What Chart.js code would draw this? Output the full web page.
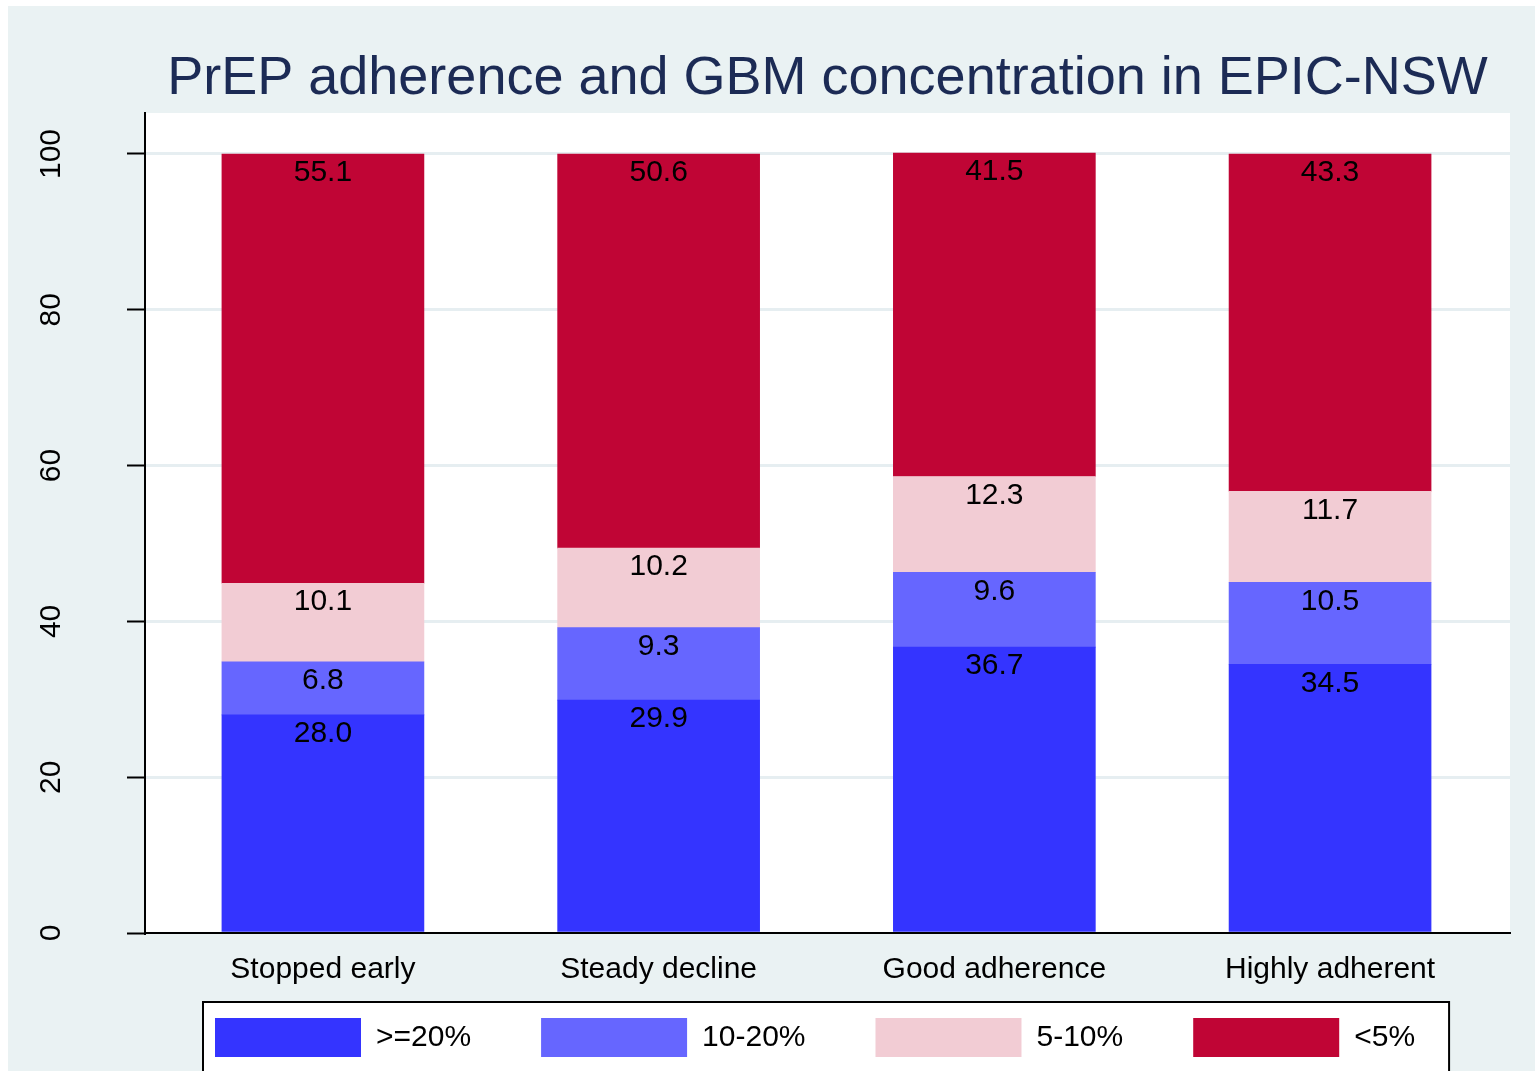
<!DOCTYPE html>
<html>
<head>
<meta charset="utf-8">
<script src="https://cdn.jsdelivr.net/npm/chart.js@4/dist/chart.umd.min.js"></script>
<style>
  html, body { margin: 0; padding: 0; overflow: hidden; background: #fff; }
  canvas { display: block; }
</style>
</head>
<body>
<canvas id="chart" width="1535" height="1071"></canvas>
<script>
// Data (percent of GBM concentration group per trajectory)
const categories = ['Stopped early', 'Steady decline', 'Good adherence', 'Highly adherent'];
const seriesNames = ['>=20%', '10-20%', '5-10%', '<5%'];
const gbm20plus = [28.0, 29.9, 36.7, 34.5];
const gbm10to20 = [6.8, 9.3, 9.6, 10.5];
const gbm5to10 = [10.1, 10.2, 12.3, 11.7];
const gbmUnder5 = [55.1, 50.6, 41.5, 43.3];
const yTicks = [0, 20, 40, 60, 80, 100];

const FONT = '"Liberation Sans", Arial, Helvetica, sans-serif';
Chart.defaults.font.family = FONT;
Chart.defaults.font.size = 30;
Chart.defaults.color = '#000';

const seriesValues = [gbm20plus, gbm10to20, gbm5to10, gbmUnder5];
const seriesColors = ['#3434FF', '#6666FF', '#F2CCD4', '#C00535'];
const gridColor = '#E6EEF1';

// background, white plot region and the framed legend box (Stata s2color look)
const backdrop = {
  id: 'backdrop',
  afterLayout(chart) {
    // x axis box is kept thin so the legend sits close; widen its label clip area
    const x = chart.scales.x;
    x.bottom = x.top + 70;
  },
  beforeDraw(chart) {
    const { ctx, chartArea: a, width, height } = chart;
    ctx.save();
    ctx.fillStyle = '#fff';
    ctx.fillRect(0, 0, width, height);
    ctx.fillStyle = '#EAF2F3';
    ctx.fillRect(8, 6, width - 8, height - 6);
    ctx.fillStyle = '#fff';
    ctx.fillRect(a.left, a.top, a.right - a.left, a.bottom - a.top);
    const hb = chart.legend && chart.legend.legendHitBoxes;
    if (hb && hb.length) {
      const first = hb[0];
      const last = hb[hb.length - 1];
      const x0 = first.left - 12;
      const y0 = first.top - 16;
      const x1 = last.left + last.width + 34;
      ctx.fillStyle = '#fff';
      ctx.fillRect(x0, y0, x1 - x0, height - y0 + 10);
      ctx.strokeStyle = '#000';
      ctx.lineWidth = 2;
      ctx.strokeRect(x0, y0, x1 - x0, height - y0 + 10);
    }
    ctx.restore();
  }
};

// value labels just inside the top of each segment
const segmentLabels = {
  id: 'segmentLabels',
  afterDatasetsDraw(chart) {
    const { ctx } = chart;
    ctx.save();
    ctx.font = '30px ' + FONT;
    ctx.fillStyle = '#000';
    ctx.textAlign = 'center';
    ctx.textBaseline = 'middle';
    chart.data.datasets.forEach((ds, i) => {
      const meta = chart.getDatasetMeta(i);
      meta.data.forEach((bar, j) => {
        ctx.fillText(seriesValues[i][j].toFixed(1), bar.x, bar.y + 19);
      });
    });
    ctx.restore();
  }
};

const datasets = seriesNames.map((name, i) => ({
  label: name,
  data: seriesValues[i].map((v, j) => ({ x: j, y: v })),
  backgroundColor: seriesColors[i],
  borderColor: seriesColors[i],
  borderWidth: 0,
  barThickness: 202
}));

new Chart(document.getElementById('chart').getContext('2d'), {
  type: 'bar',
  data: { datasets },
  plugins: [backdrop, segmentLabels],
  options: {
    responsive: false,
    animation: false,
    devicePixelRatio: 1,
    layout: { padding: { left: 0, right: 25, top: 0, bottom: 4 } },
    scales: {
      x: {
        type: 'linear',
        offset: false,
        stacked: true,
        min: -0.53,
        max: 3.536,
        afterBuildTicks: (scale) => { scale.ticks = categories.map((c, i) => ({ value: i })); },
        afterFit: (scale) => { scale.height = 15; },
        ticks: {
          padding: 11,
          maxRotation: 0,
          autoSkip: false,
          font: { size: 30 },
          color: '#000',
          callback: (v) => categories[v]
        },
        grid: { display: false },
        border: { display: true, color: '#000', width: 2 }
      },
      y: {
        stacked: true,
        min: 0,
        max: 105.26,
        afterBuildTicks: (scale) => { scale.ticks = yTicks.map(v => ({ value: v })); },
        afterFit: (scale) => { scale.width = 145; },
        ticks: {
          minRotation: 90,
          maxRotation: 90,
          crossAlign: 'center',
          padding: 50,
          font: { size: 30 },
          color: '#000'
        },
        grid: {
          color: (ctx) => (ctx.tick && ctx.tick.value === 0 ? 'rgba(0,0,0,0)' : gridColor),
          lineWidth: 3,
          tickColor: '#000',
          tickWidth: 2,
          tickLength: 18
        },
        border: { display: true, color: '#000', width: 2 }
      }
    },
    plugins: {
      title: {
        display: true,
        text: 'PrEP adherence and GBM concentration in EPIC-NSW',
        fullSize: false,
        color: '#1C2B55',
        font: { size: 54, weight: 'normal' },
        padding: { top: 47, bottom: 1.2 }
      },
      legend: {
        position: 'bottom',
        align: 'start',
        fullSize: false,
        labels: {
          boxWidth: 146,
          boxHeight: 39,
          padding: 70,
          color: '#000',
          font: { size: 30 }
        }
      },
      tooltip: { enabled: false }
    }
  }
});
</script>
</body>
</html>
